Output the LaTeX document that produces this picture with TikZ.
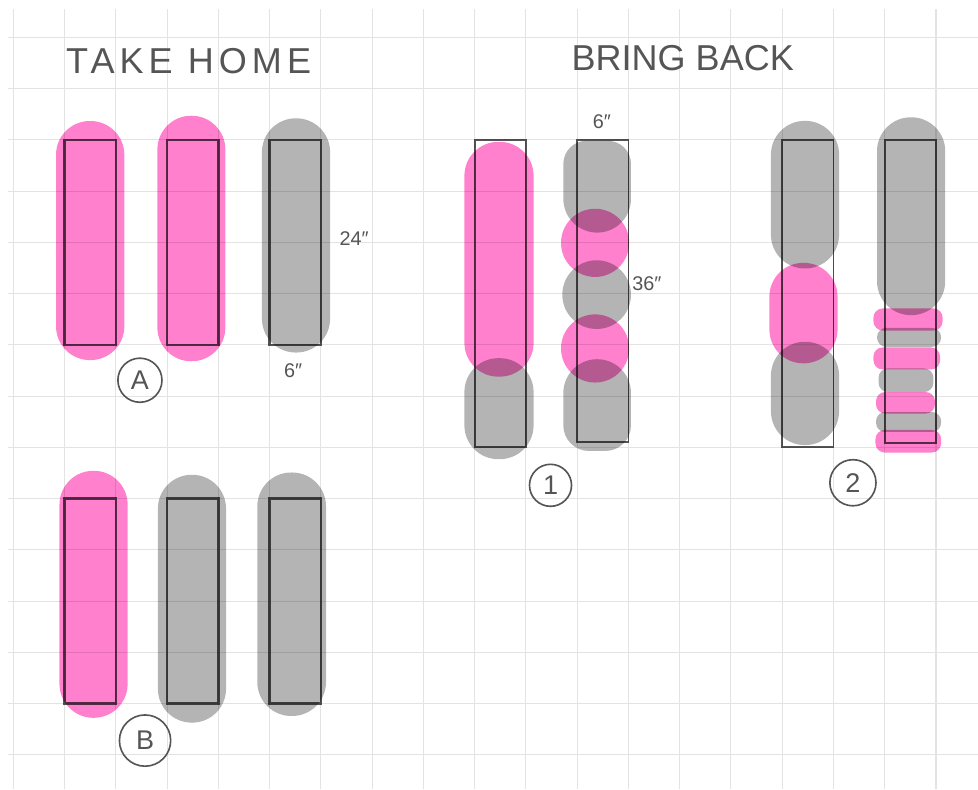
\documentclass[tikz,border=0pt]{standalone}
\usepackage{fontspec}
\setmainfont{Liberation Sans}

\definecolor{marker}{HTML}{FF80CC}
\definecolor{stone}{HTML}{B4B4B4}
\definecolor{ink}{HTML}{555555}
\definecolor{paper}{HTML}{E3E3E3}

\begin{document}
\begin{tikzpicture}[
    pill/.style={rounded corners=0.66cm},
    band/.style={rounded corners=0.18cm},
    tube/.style={draw=ink, line width=1.3pt},
    thintube/.style={draw=ink, line width=1pt},
    badge/.style={draw=ink, line width=0.9pt, circle, minimum size=#1,
      inner sep=0pt, text=ink, font=\fontsize{15}{15}\selectfont},
    size/.style={text=ink, inner sep=0pt, font=\fontsize{11}{11}\selectfont},
    title/.style={text=ink, inner sep=0pt, font=\fontsize{20}{20}\selectfont},
  ]

  \useasboundingbox (-0.26,0.728) rectangle (18.82,-14.667);

  % ---- squared paper ----
  \foreach \x in {0,...,18}
    \draw[paper, line width=0.6pt] (\x,0.55) -- (\x,-14.667);
  \foreach \y in {0,...,14}
    \draw[paper, line width=0.6pt] (-0.1,-\y) -- (18.82,-\y);

  % ---- headings ----
  \node[title] (takehome) at (3.42,-0.46) {\addfontfeature{LetterSpace=14}TAKE HOME};
  \node[title] (bringback) at (13.06,-0.40) {BRING BACK};

  \begin{scope}[blend mode=multiply]

    % ---- take home, option A ----
    \fill[marker, pill] (0.833,-1.633) rectangle (2.166,-6.297);
    \fill[marker, pill] (2.81,-1.53) rectangle (4.137,-6.32);
    \fill[stone, pill] (4.85,-1.58) rectangle (6.18,-6.15);
    \draw[tube] (1,-2) rectangle (2,-6);
    \draw[tube] (3,-2) rectangle (4,-6);
    \draw[tube] (5,-2) rectangle (6,-6);

    % ---- take home, option B ----
    \fill[marker, pill] (0.9,-8.457) rectangle (2.23,-13.276);
    \fill[stone, pill] (2.82,-8.535) rectangle (4.15,-13.37);
    \fill[stone, pill] (4.76,-8.49) rectangle (6.1,-13.24);
    \draw[tube] (1,-9) rectangle (2,-13);
    \draw[tube] (3,-9) rectangle (4,-13);
    \draw[tube] (5,-9) rectangle (6,-13);

    % ---- bring back 1: long piece plus short one ----
    \fill[marker, pill] (8.8,-2.04) rectangle (10.15,-6.62);
    \fill[stone, pill] (8.8,-6.26) rectangle (10.15,-8.23);
    \draw[thintube] (9,-2) rectangle (10,-8);

    % stacked rounds in the second tube
    \fill[stone] (10.73,-3.15) -- (10.73,-2.47) arc (180:90:0.45)
      -- (11.6,-2.02) arc (90:0:0.45) -- (12.05,-3.15) arc (0:-180:0.66) -- cycle;
    \fill[marker] (11.35,-4.01) circle (0.665);
    \fill[stone] (11.38,-5.02) circle (0.67);
    \fill[marker] (11.35,-6.07) circle (0.665);
    \fill[stone] (10.73,-6.94) arc (180:0:0.66) -- (12.05,-7.57) arc (0:-90:0.5)
      -- (11.23,-8.07) arc (-90:-180:0.5) -- cycle;
    \draw[thintube] (11,-2) rectangle (12,-7.9);

    % ---- bring back 2 ----
    \fill[stone, pill] (14.78,-1.63) rectangle (16.11,-4.51);
    \fill[marker, pill] (14.75,-4.40) rectangle (16.08,-6.36);
    \fill[stone, pill] (14.78,-5.94) rectangle (16.11,-7.955);
    \draw[thintube] (15,-2) rectangle (16,-8);

    % thin slices at the foot of the last tube
    \fill[stone, pill] (16.85,-1.56) rectangle (18.18,-5.42);
    \fill[marker, band] (16.78,-5.29) rectangle (18.13,-5.72);
    \fill[stone, band] (16.85,-5.67) rectangle (18.1,-6.04);
    \fill[marker, band] (16.78,-6.05) rectangle (18.08,-6.48);
    \fill[stone, band] (16.88,-6.46) rectangle (17.95,-6.92);
    \fill[marker, band] (16.83,-6.92) rectangle (17.98,-7.34);
    \fill[stone, band] (16.83,-7.31) rectangle (18.1,-7.70);
    \fill[marker, band] (16.82,-7.66) rectangle (18.1,-8.10);
    \draw[thintube] (17,-2) rectangle (18,-7.92);

  \end{scope}

  % ---- sizes ----
  \node[size] (long) at (6.65,-3.92) {24″};
  \node[size] (wide) at (5.46,-6.51) {6″};
  \node[size] (top) at (11.48,-1.65) {6″};
  \node[size] (full) at (12.36,-4.8) {36″};

  % ---- option badges ----
  \node[badge=0.86cm] (optA) at (2.47,-6.69) {A};
  \node[badge=1.0cm] (optB) at (2.57,-13.72) {B};
  \node[badge=0.82cm] (opt1) at (10.48,-8.74) {1};
  \node[badge=0.9cm] (opt2) at (16.38,-8.69) {2};

\end{tikzpicture}
\end{document}
